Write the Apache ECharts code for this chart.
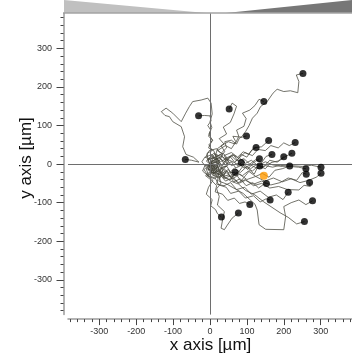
<!DOCTYPE html>
<html><head><meta charset="utf-8">
<script src="https://cdn.jsdelivr.net/npm/echarts@6/dist/echarts.min.js"></script>
<style>html,body{margin:0;padding:0;background:#fff}#c{width:352px;height:362px}</style>
</head><body><div id="c"></div>
<script>
// ---- data (µm) ----
const majorTicks = [-300, -200, -100, 0, 100, 200, 300];
const tracks = [
  [[0,0],[12,-8],[25,5],[15,18],[-5,10],[-8,28],[6,35],[-3,50],[8,62],[-4,72],[2,88],[-6,100],[3,112],[0,125],[-15,126],[-31,125]],
  [[0,0],[-10,8],[5,20],[20,12],[10,35],[-4,42],[6,62],[-3,78],[5,95],[0,110],[6,130],[3,158],[-6,171],[-24,166],[-47,162],[-56,149],[-66,132],[-78,110],[-101,132],[-119,145],[-132,136],[-122,126],[-110,123],[-101,110],[-78,97],[-69,71],[-74,45],[-65,25],[-45,18],[-30,5],[-50,10],[-67,12]],
  [[0,0],[18,6],[30,-6],[42,10],[28,25],[14,18],[20,40],[38,52],[25,66],[45,78],[36,96],[55,108],[65,130],[72,150],[60,158],[52,143]],
  [[0,0],[8,15],[25,8],[35,25],[20,35],[42,48],[58,40],[70,58],[62,72],[85,70],[97,85],[106,100],[115,119],[128,132],[137,149],[155,162],[171,184],[182,194],[200,188],[218,190],[238,185],[241,214],[234,231],[252,235]],
  [[0,0],[-6,12],[10,28],[28,20],[40,32],[30,48],[50,58],[68,52],[78,72],[72,88],[92,98],[98,118],[88,132],[108,140],[122,152],[133,168],[146,162]],
  [[0,0],[15,12],[5,25],[-12,18],[-2,35],[18,40],[30,28],[45,42],[40,58],[58,62],[72,52],[80,68],[99,73]],
  [[0,0],[12,12],[28,2],[22,-14],[40,-10],[50,8],[38,22],[58,30],[75,18],[90,32],[105,25],[118,42],[140,45],[159,61]],
  [[0,0],[-8,-12],[10,-18],[22,-4],[15,12],[32,20],[48,10],[60,25],[78,15],[95,30],[115,22],[130,38],[150,35],[165,48],[185,42],[200,55],[215,48],[231,56]],
  [[0,0],[10,-5],[4,-22],[22,-28],[30,-10],[48,-4],[40,14],[58,22],[72,8],[85,25],[100,18],[112,35],[125,43]],
  [[0,0],[6,10],[22,2],[16,-16],[32,-24],[50,-14],[60,-30],[78,-20],[92,-2],[110,-12],[128,0],[145,-8],[162,10],[182,5],[205,20],[222,28]],
  [[0,0],[-5,-15],[12,-10],[26,4],[18,20],[36,28],[48,14],[64,24],[75,8],[92,14],[108,0],[124,12],[140,4],[152,20],[168,25]],
  [[0,0],[14,-4],[8,-20],[26,-26],[38,-12],[52,-24],[66,-10],[82,-22],[98,-8],[115,-18],[132,-4],[150,-12],[165,4],[185,8],[200,19]],
  [[0,0],[-12,-6],[-22,6],[-14,18],[2,12],[12,25],[28,16],[40,-2],[58,6],[70,-10],[88,-2],[102,-14],[118,4],[134,14]],
  [[0,0],[16,4],[24,-12],[10,-24],[-4,-14],[6,8],[24,16],[40,6],[54,20],[66,6],[76,-6],[85,4]],
  [[0,0],[-14,-4],[-20,-18],[-6,-30],[10,-20],[22,-36],[36,-24],[30,-8],[46,-6],[56,-22],[68,-21]],
  [[0,0],[20,-6],[14,-22],[32,-30],[46,-18],[56,-34],[72,-28],[84,-44],[96,-30],[108,-16],[120,-26],[128,-10],[135,-5]],
  [[0,0],[10,-14],[26,-6],[42,-20],[36,-36],[56,-40],[70,-22],[88,-30],[104,-18],[124,-32],[142,-24],[160,-34],[176,-16],[196,-12],[216,-5]],
  [[0,0],[-6,12],[12,18],[28,6],[44,14],[58,-4],[76,2],[92,-10],[110,-2],[130,-12],[150,-4],[170,-8],[190,-3],[215,-6],[240,-8],[260,-12]],
  [[0,0],[4,-18],[-8,-30],[12,-38],[26,-26],[42,-44],[60,-36],[78,-50],[96,-42],[118,-52],[140,-44],[165,-54],[190,-48],[212,-36],[235,-42],[250,-22],[261,-26]],
  [[0,0],[20,8],[34,-4],[48,12],[66,4],[80,16],[96,2],[112,10],[130,-4],[150,6],[170,-2],[192,-6],[220,-4],[250,-6],[275,-3],[290,-6],[301,-8]],
  [[0,0],[14,-10],[8,-28],[28,-34],[44,-22],[62,-38],[80,-26],[100,-40],[124,-32],[148,-44],[172,-36],[196,-46],[220,-38],[244,-48],[268,-42],[288,-34],[301,-24]],
  [[0,0],[-4,-16],[12,-26],[26,-14],[34,-32],[52,-28],[64,-46],[82,-38],[98,-56],[116,-48],[132,-62],[146,-52],[153,-50]],
  [[0,0],[10,-22],[28,-16],[40,-36],[58,-30],[76,-48],[96,-40],[118,-56],[140,-50],[162,-62],[186,-58],[210,-66],[241,-67],[255,-55],[272,-58],[270,-48]],
  [[0,0],[6,-28],[22,-36],[18,-52],[38,-56],[56,-48],[72,-66],[94,-60],[112,-78],[136,-70],[158,-86],[180,-80],[198,-92],[212,-73]],
  [[0,0],[-10,-12],[-4,-30],[14,-36],[24,-54],[44,-60],[56,-76],[78,-70],[96,-88],[118,-82],[136,-98],[152,-90],[163,-93]],
  [[0,0],[14,-14],[30,-26],[24,-44],[46,-52],[68,-64],[90,-76],[108,-92],[122,-104],[128,-119],[133,-157],[151,-169],[200,-170],[205,-136],[200,-110],[220,-100],[241,-93],[260,-105],[278,-95]],
  [[0,0],[2,-18],[-12,-30],[4,-42],[18,-56],[14,-72],[34,-78],[48,-94],[66,-88],[80,-102],[95,-98],[108,-105]],
  [[0,0],[8,-14],[22,-24],[30,-49],[18,-64],[25,-84],[20,-106],[39,-123],[34,-145],[30,-166],[39,-170],[47,-158],[60,-140],[77,-127]],
  [[0,0],[18,-10],[36,-30],[56,-44],[78,-52],[96,-68],[122,-80],[146,-98],[168,-112],[190,-126],[212,-138],[235,-155],[256,-149]],
  [[0,0],[-16,-14],[-6,-30],[8,-42],[-4,-60],[-10,-78],[6,-92],[2,-108],[15,-118],[20,-128],[31,-137]]
];
const centerOfMass = [146, -30];

// ---- chart ----
const minorX = []; for (let v = -380; v <= 380; v += 20) minorX.push(v);
const minorY = []; for (let v = -380; v <= 380; v += 20) minorY.push(v);
const chart = echarts.init(document.getElementById('c'), null, {renderer: 'canvas'});
const FONT = 'Liberation Sans, Arial, sans-serif';
const series = tracks.map((t, i) => ({
  type: 'line', data: t, symbol: 'none', silent: true, animation: false,
  lineStyle: {color: '#45453a', width: 0.8, opacity: 0.95},
  markLine: i === 0 ? {silent: true, symbol: 'none', label: {show: false},
    lineStyle: {color: '#6e6e6e', width: 1, type: 'solid'},
    data: [{xAxis: 0}, {yAxis: 0}]} : undefined,
  z: 2
}));
series.push({type: 'scatter', data: tracks.map(t => t[t.length - 1]), symbolSize: 7,
  itemStyle: {color: '#000'}, z: 5, silent: true, animation: false});
series.push({type: 'scatter', data: [centerOfMass], symbolSize: 8,
  itemStyle: {color: '#ff9a00'}, z: 6, silent: true, animation: false});

const axisCommon = {type: 'value', splitLine: {show: false}};
chart.setOption({
  animation: false,
  grid: {left: 68, top: 13.6, width: 285.7, height: 301, containLabel: false},
  xAxis: [
    Object.assign({}, axisCommon, {min: -385, max: 385, position: 'bottom', offset: 4.5,
      axisLine: {show: true, onZero: false, lineStyle: {color: '#9a9a9a', width: 1.5}},
      axisTick: {show: true, inside: false, length: 3, customValues: minorX, lineStyle: {color: '#444'}},
      axisLabel: {show: false}}),
    Object.assign({}, axisCommon, {min: -385, max: 385, position: 'bottom', offset: 4.5,
      axisLine: {show: false, onZero: false},
      axisTick: {show: true, length: 6, customValues: majorTicks, lineStyle: {color: '#444'}},
      axisLabel: {show: true, customValues: majorTicks, margin: 7.5, fontSize: 9, color: '#333', fontFamily: FONT}})
  ],
  yAxis: [
    Object.assign({}, axisCommon, {min: -390, max: 390, position: 'left', offset: 4.5,
      axisLine: {show: true, onZero: false, lineStyle: {color: '#9a9a9a', width: 1.5}},
      axisTick: {show: true, length: 3, customValues: minorY, lineStyle: {color: '#444'}},
      axisLabel: {show: false}}),
    Object.assign({}, axisCommon, {min: -390, max: 390, position: 'left', offset: 4.5,
      axisLine: {show: false, onZero: false},
      axisTick: {show: true, length: 7, customValues: majorTicks, lineStyle: {color: '#444'}},
      axisLabel: {show: true, customValues: majorTicks, margin: 11.5, fontSize: 9, color: '#333', fontFamily: FONT}})
  ],
  series: series,
  graphic: [
    {type: 'polygon', shape: {points: [[64, 0], [206, 13], [64, 13]]}, style: {fill: '#c0c0c0'}, silent: true},
    {type: 'polygon', shape: {points: [[226, 13], [352, 0], [352, 13]]}, style: {fill: '#777777'}, silent: true},
    {type: 'line', shape: {x1: 63, y1: 13, x2: 352, y2: 13}, style: {stroke: '#a3a3a3', lineWidth: 1.5}, silent: true},
    {type: 'text', x: 210.5, y: 345, style: {text: 'x axis [µm]', font: '17px ' + FONT, fill: '#111', align: 'center', verticalAlign: 'middle'}, silent: true},
    {type: 'text', x: 26, y: 158, rotation: Math.PI / 2, style: {text: 'y axis [µm]', font: '17px ' + FONT, fill: '#111', align: 'center', verticalAlign: 'middle'}, silent: true}
  ]
});
</script></body></html>
